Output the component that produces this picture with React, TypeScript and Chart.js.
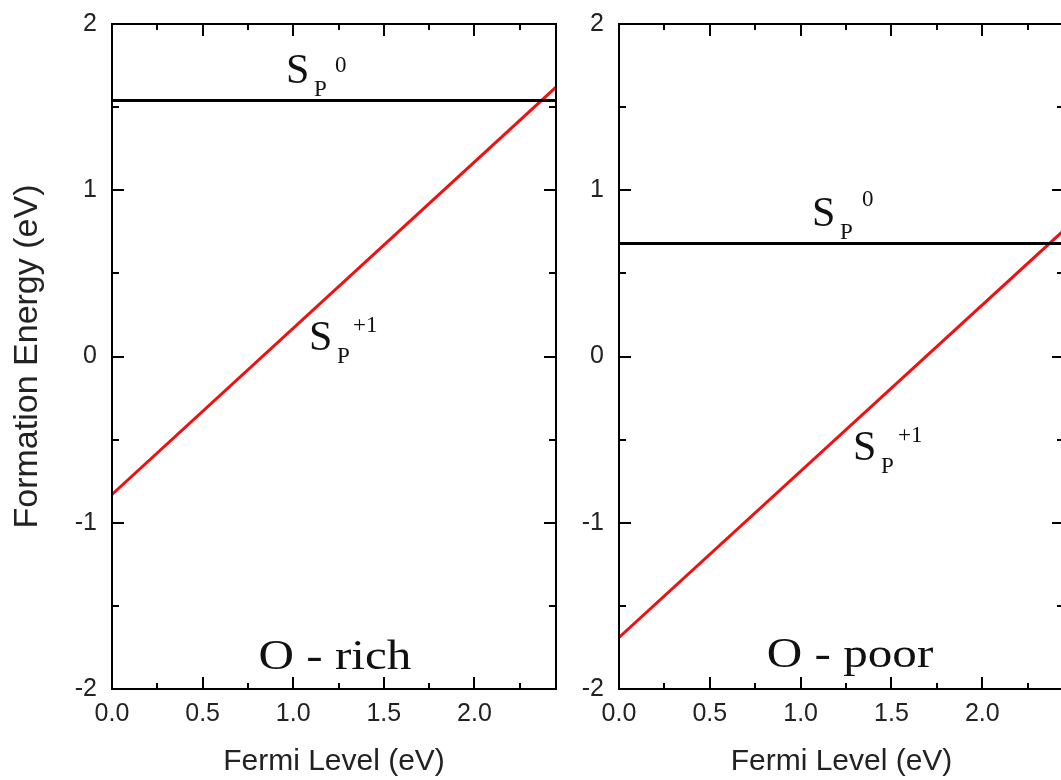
import React, { useEffect, useRef } from 'react';
import { Chart, registerables } from 'chart.js';

Chart.register(...registerables);

// ---- data ----
const fermiEnds = [0, 2.45];
const xMajorTicks = [0, 0.5, 1.0, 1.5, 2.0];
const xMinorTicks = [0.25, 0.75, 1.25, 1.75, 2.25];
const yMajorTicks = [-2, -1, 0, 1, 2];
const yMinorTicks = [-1.5, -0.5, 0.5, 1.5];

const richNeutral = [1.54, 1.54];
const richCharged = [-0.83, 1.62];
const poorNeutral = [0.68, 0.68];
const poorCharged = [-1.69, 0.76];

const SANS = '"Liberation Sans", Arial, Helvetica, sans-serif';
const SERIF = '"Liberation Serif", "Times New Roman", Times, serif';

type SpeciesLabel = { x: number; y: number; sup: string; supDx: number; supDy: number };
type PanelLabels = { species: SpeciesLabel[]; title: { x: number; y: number; text: string } };

const richLabels: PanelLabels = {
  species: [
    { x: 0.96, y: 1.645, sup: '0', supDx: 49, supDy: -11 },
    { x: 1.087, y: 0.039, sup: '+1', supDx: 44, supDy: -18 },
  ],
  title: { x: 1.23, y: -1.88, text: 'O - rich' },
};

const poorLabels: PanelLabels = {
  species: [
    { x: 1.063, y: 0.785, sup: '0', supDx: 50, supDy: -20 },
    { x: 1.289, y: -0.623, sup: '+1', supDx: 45, supDy: -18 },
  ],
  title: { x: 1.272, y: -1.87, text: 'O - poor' },
};

function makeFramePlugin(labels: PanelLabels) {
  return {
    id: 'frameAndLabels',
    afterDraw(chart: any) {
      const { ctx, chartArea } = chart;
      const { left, right, top, bottom } = chartArea;
      const xs = chart.scales.x;
      const ys = chart.scales.y;
      ctx.save();
      ctx.strokeStyle = '#000';
      ctx.lineWidth = 2;
      ctx.lineCap = 'butt';
      ctx.beginPath();
      const drawX = (vals: number[], len: number) => {
        vals.forEach((v) => {
          const px = Math.round(xs.getPixelForValue(v));
          ctx.moveTo(px, bottom);
          ctx.lineTo(px, bottom - len);
          ctx.moveTo(px, top);
          ctx.lineTo(px, top + len);
        });
      };
      const drawY = (vals: number[], len: number) => {
        vals.forEach((v) => {
          const py = Math.round(ys.getPixelForValue(v));
          ctx.moveTo(left, py);
          ctx.lineTo(left + len, py);
          ctx.moveTo(right, py);
          ctx.lineTo(right - len, py);
        });
      };
      drawX(xMajorTicks, 12);
      drawX(xMinorTicks, 6);
      drawY(yMajorTicks, 12);
      drawY(yMinorTicks, 7);
      ctx.stroke();
      ctx.strokeRect(left, top, right - left, bottom - top);

      // annotations
      ctx.fillStyle = '#111';
      ctx.textBaseline = 'alphabetic';
      labels.species.forEach((s) => {
        const sx = xs.getPixelForValue(s.x);
        const sy = ys.getPixelForValue(s.y);
        ctx.textAlign = 'left';
        ctx.font = `42px ${SERIF}`;
        ctx.fillText('S', sx, sy);
        ctx.font = `23px ${SERIF}`;
        ctx.fillText('P', sx + 28, sy + 13);
        ctx.fillText(s.sup, sx + s.supDx, sy + s.supDy);
      });
      const t = labels.title;
      ctx.save();
      ctx.translate(xs.getPixelForValue(t.x), ys.getPixelForValue(t.y));
      ctx.scale(1.17, 1);
      ctx.textAlign = 'center';
      ctx.font = `42px ${SERIF}`;
      ctx.fillText(t.text, 0, 0);
      ctx.restore();
      ctx.restore();
    },
  };
}

function zeroPadding(s: any) {
  s.paddingTop = 0;
  s.paddingBottom = 0;
  s.paddingLeft = 0;
  s.paddingRight = 0;
}

function buildChart(
  canvas: HTMLCanvasElement,
  neutral: number[],
  charged: number[],
  labels: PanelLabels,
  yAxisWidth: number,
  rightPad: number,
  showYTitle: boolean
) {
  return new Chart(canvas, {
    type: 'scatter',
    data: {
      datasets: [
        {
          data: fermiEnds.map((x, i) => ({ x, y: neutral[i] })),
          showLine: true,
          borderColor: '#000',
          borderWidth: 3,
          pointRadius: 0,
        },
        {
          data: fermiEnds.map((x, i) => ({ x, y: charged[i] })),
          showLine: true,
          borderColor: '#f01010',
          borderWidth: 3,
          pointRadius: 0,
        },
      ],
    },
    options: {
      responsive: false,
      maintainAspectRatio: false,
      animation: false,
      events: [],
      layout: { padding: { left: 0, top: 24, right: rightPad, bottom: 0 } },
      plugins: { legend: { display: false }, tooltip: { enabled: false } },
      scales: {
        x: {
          type: 'linear',
          min: fermiEnds[0],
          max: fermiEnds[1],
          afterBuildTicks: (s: any) => {
            s.ticks = xMajorTicks.map((v) => ({ value: v }));
          },
          afterFit: (s: any) => {
            s.height = 91;
            zeroPadding(s);
          },
          grid: { display: false, drawTicks: false },
          border: { display: false },
          ticks: {
            padding: 10,
            autoSkip: false,
            maxRotation: 0,
            color: '#222',
            font: { family: SANS, size: 25 },
            callback: (v: any) => Number(v).toFixed(1),
          },
          title: {
            display: true,
            text: 'Fermi Level (eV)',
            color: '#222',
            font: { family: SANS, size: 30 },
            padding: { top: 0, bottom: 0 },
          },
        },
        y: {
          type: 'linear',
          min: -2,
          max: 2,
          afterBuildTicks: (s: any) => {
            s.ticks = yMajorTicks.map((v) => ({ value: v }));
          },
          afterFit: (s: any) => {
            s.width = yAxisWidth;
            zeroPadding(s);
          },
          grid: { display: false, drawTicks: false },
          border: { display: false },
          ticks: {
            padding: 15,
            color: '#222',
            font: { family: SANS, size: 25 },
            callback: (v: any) => String(v),
          },
          title: {
            display: showYTitle,
            text: 'Formation Energy (eV)',
            color: '#222',
            font: { family: SANS, size: 34 },
            padding: { top: 7, bottom: 0 },
          },
        },
      },
    },
    plugins: [makeFramePlugin(labels)],
  } as any);
}

export default function App() {
  const leftRef = useRef<HTMLCanvasElement>(null);
  const rightRef = useRef<HTMLCanvasElement>(null);

  useEffect(() => {
    const c1 = buildChart(leftRef.current!, richNeutral, richCharged, richLabels, 112, 19, true);
    const c2 = buildChart(rightRef.current!, poorNeutral, poorCharged, poorLabels, 44, 16, false);
    return () => {
      c1.destroy();
      c2.destroy();
    };
  }, []);

  return (
    <div
      style={{
        position: 'fixed',
        left: 0,
        top: 0,
        width: 1061,
        height: 780,
        overflow: 'hidden',
        background: '#fff',
      }}
    >
      <canvas
        ref={leftRef}
        width={575}
        height={780}
        style={{ position: 'absolute', left: 0, top: 0, width: 575, height: 780 }}
      />
      <canvas
        ref={rightRef}
        width={505}
        height={780}
        style={{ position: 'absolute', left: 575, top: 0, width: 505, height: 780 }}
      />
    </div>
  );
}
